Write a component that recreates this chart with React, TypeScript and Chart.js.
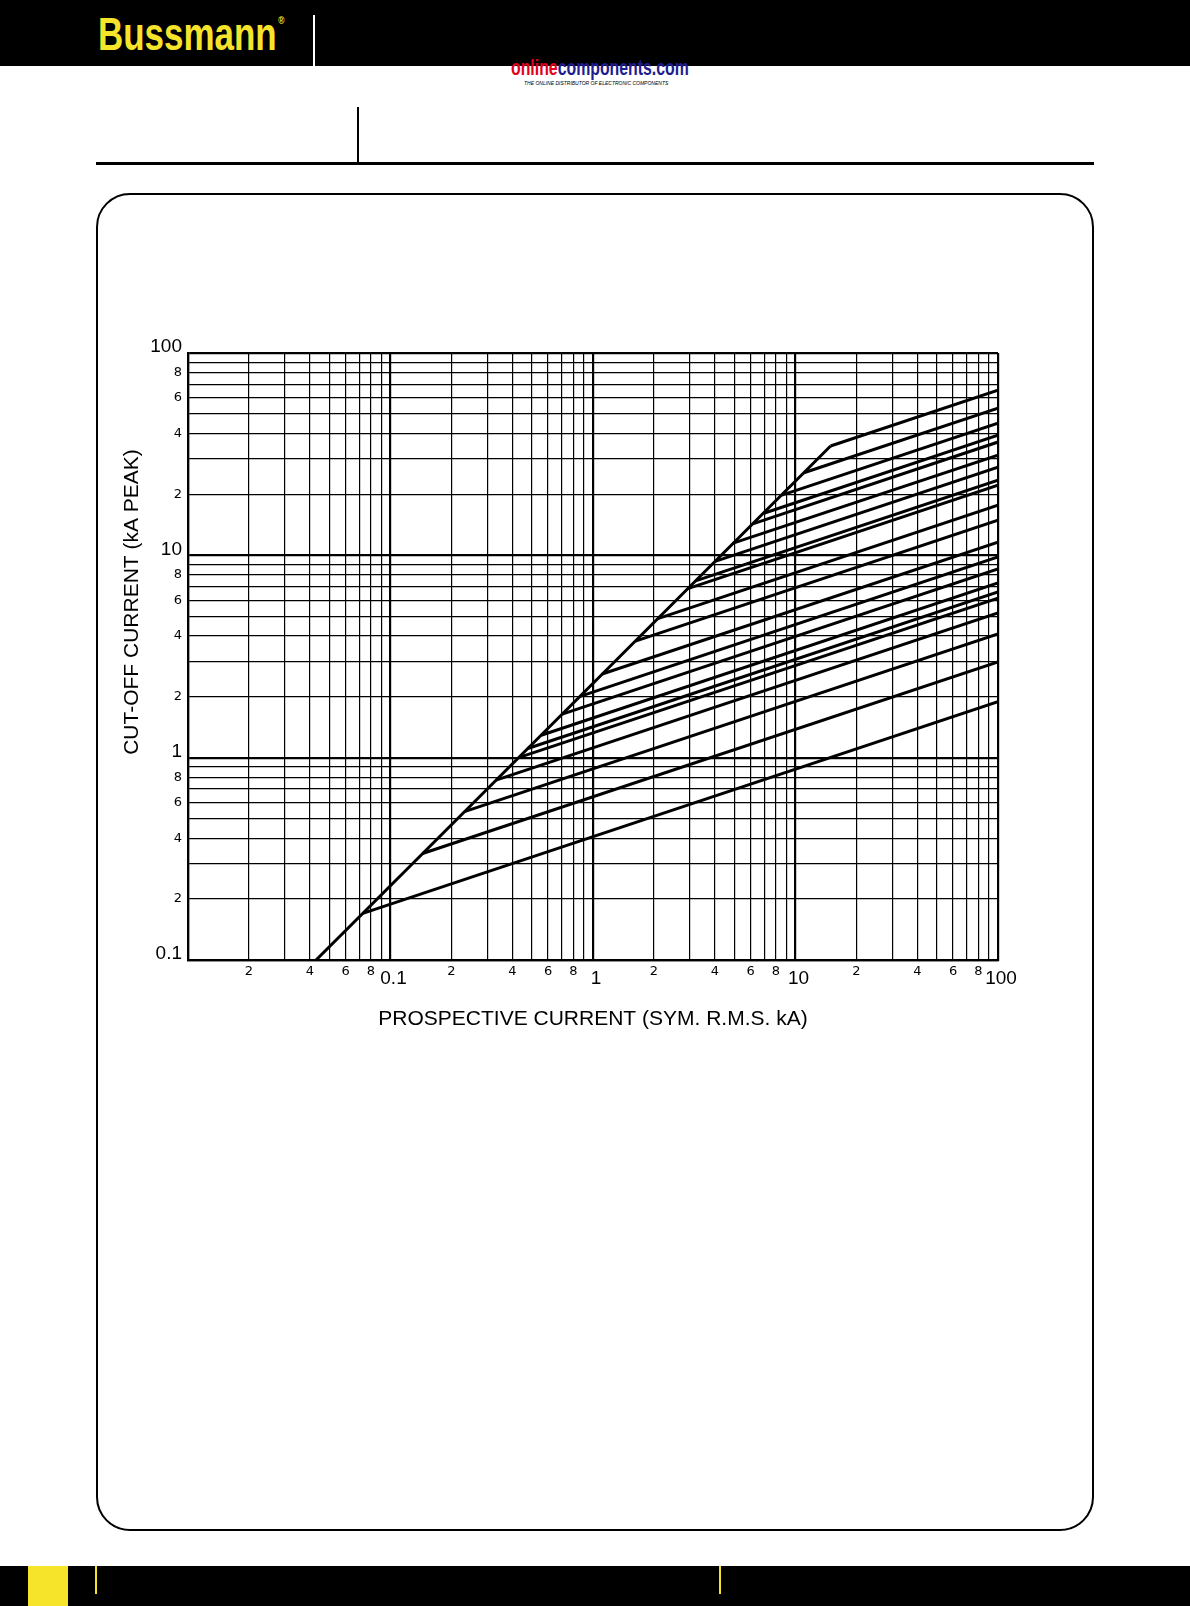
import React, { useEffect, useRef } from "react";
import { Chart, registerables } from "chart.js";

Chart.register(...registerables);

// ---- Data (prospective kA -> cut-off kA peak) ----
const envelopeX = [0.0429, 14.9];
const envelopeY = [0.1, 34.7];

const kinkX = [14.9, 11.0, 8.49, 6.92, 6.15, 4.92, 4.01, 3.21, 2.94, 2.09, 1.62, 1.11, 0.864, 0.705, 0.555, 0.476, 0.429, 0.332, 0.232, 0.144, 0.073];
const kinkY = [34.7, 25.6, 19.8, 16.1, 14.3, 11.5, 9.34, 7.48, 6.85, 4.87, 3.77, 2.59, 2.01, 1.64, 1.29, 1.11, 1.0, 0.774, 0.541, 0.336, 0.17];
const endX = [100, 100, 100, 100, 100, 100, 100, 100, 100, 100, 100, 100, 100, 100, 100, 100, 100, 100, 100, 100, 100];
const endY = [65.5, 53.4, 45.0, 39.3, 36.3, 31.3, 27.3, 23.5, 22.2, 17.7, 14.9, 11.6, 9.81, 8.56, 7.3, 6.59, 6.15, 5.19, 4.09, 2.97, 1.89];

// ---- Axes ----
const xMin = 0.01;
const xMax = 100;
const yMin = 0.1;
const yMax = 100;
const gridMultipliers = [1, 2, 3, 4, 5, 6, 7, 8, 9];
const xDecades = [0.01, 0.1, 1, 10];
const yDecades = [0.1, 1, 10];

const xMajorTicks = [0.1, 1, 10, 100];
const xMajorLabels = ["0.1", "1", "10", "100"];
const xMinorTicks = [0.02, 0.04, 0.06, 0.08, 0.2, 0.4, 0.6, 0.8, 2, 4, 6, 8, 20, 40, 60, 80];
const xMinorLabels = ["2", "4", "6", "8", "2", "4", "6", "8", "2", "4", "6", "8", "2", "4", "6", "8"];

const yMajorTicks = [0.1, 1, 10, 100];
const yMajorLabels = ["0.1", "1", "10", "100"];
const yMinorTicks = [0.2, 0.4, 0.6, 0.8, 2, 4, 6, 8, 20, 40, 60, 80];
const yMinorLabels = ["2", "4", "6", "8", "2", "4", "6", "8", "2", "4", "6", "8"];

const xTitle = "PROSPECTIVE CURRENT (SYM. R.M.S. kA)";
const yTitle = "CUT-OFF CURRENT (kA PEAK)";

function gridValues(decades: number[], max: number) {
  const out: number[] = [];
  decades.forEach((d) => gridMultipliers.forEach((m) => out.push(+(d * m).toPrecision(6))));
  out.push(max);
  return out;
}

function isDecade(v: number) {
  const l = Math.log10(v);
  return Math.abs(l - Math.round(l)) < 1e-6;
}

const SANS = '"Liberation Sans", Arial, Helvetica, sans-serif';
const MINOR_FONT = '13px "DejaVu Sans", sans-serif';
const MAJOR_FONT = "19px " + SANS;
const TITLE_FONT = "21px " + SANS;

const labelPlugin = {
  id: "customAxisLabels",
  afterDraw(chart: any) {
    const { ctx, chartArea } = chart;
    const xs = chart.scales.x;
    const ys = chart.scales.y;
    ctx.save();
    ctx.fillStyle = "#000";

    // Y minor labels
    ctx.font = MINOR_FONT;
    ctx.textAlign = "right";
    ctx.textBaseline = "middle";
    yMinorTicks.forEach((v, i) => ctx.fillText(yMinorLabels[i], chartArea.left - 6, ys.getPixelForValue(v)));

    // Y major labels
    ctx.font = MAJOR_FONT;
    yMajorTicks.forEach((v, i) => ctx.fillText(yMajorLabels[i], chartArea.left - 6, ys.getPixelForValue(v) - 6));

    // X minor labels
    ctx.font = MINOR_FONT;
    ctx.textAlign = "center";
    xMinorTicks.forEach((v, i) => ctx.fillText(xMinorLabels[i], xs.getPixelForValue(v), chartArea.bottom + 12));

    // X major labels
    ctx.font = MAJOR_FONT;
    xMajorTicks.forEach((v, i) => ctx.fillText(xMajorLabels[i], xs.getPixelForValue(v) + 3, chartArea.bottom + 19));

    // Titles
    ctx.font = TITLE_FONT;
    ctx.fillText(xTitle, (chartArea.left + chartArea.right) / 2, chartArea.bottom + 59);
    ctx.save();
    ctx.translate(chartArea.left - 56, chartArea.top + 249);
    ctx.rotate(-Math.PI / 2);
    ctx.fillText(yTitle, 0, 0);
    ctx.restore();

    ctx.restore();
  },
};

function CutoffChart() {
  const ref = useRef<HTMLCanvasElement | null>(null);
  useEffect(() => {
    if (!ref.current) return;
    const lineStyle = {
      borderColor: "#000",
      borderWidth: 3,
      pointRadius: 0,
      fill: false,
      tension: 0,
      borderJoinStyle: "miter" as const,
    };
    const datasets: any[] = [
      {
        label: "envelope",
        data: envelopeX.map((x, i) => ({ x, y: envelopeY[i] })),
        ...lineStyle,
      },
    ];
    kinkX.forEach((kx, i) => {
      datasets.push({
        label: "fuse " + (i + 1),
        data: [
          { x: kx, y: kinkY[i] },
          { x: endX[i], y: endY[i] },
        ],
        ...lineStyle,
      });
    });

    const gridWidth = (ctx: any) => (ctx.tick && isDecade(ctx.tick.value) ? 2.2 : 1.2);

    const chart = new Chart(ref.current, {
      type: "line",
      data: { datasets },
      plugins: [labelPlugin],
      options: {
        animation: false,
        responsive: false,
        devicePixelRatio: 1,
        layout: { padding: { left: 88, top: 33, right: 62, bottom: 80 } },
        plugins: { legend: { display: false }, tooltip: { enabled: false } },
        events: [],
        scales: {
          x: {
            type: "logarithmic",
            min: xMin,
            max: xMax,
            afterBuildTicks: (scale: any) => {
              scale.ticks = gridValues(xDecades, xMax).map((value) => ({ value }));
            },
            ticks: { display: false },
            grid: { color: "#000", lineWidth: gridWidth, drawTicks: false },
            border: { display: true, color: "#000", width: 2.2 },
          },
          y: {
            type: "logarithmic",
            min: yMin,
            max: yMax,
            afterBuildTicks: (scale: any) => {
              scale.ticks = gridValues(yDecades, yMax).map((value) => ({ value }));
            },
            ticks: { display: false },
            grid: { color: "#000", lineWidth: gridWidth, drawTicks: false },
            border: { display: true, color: "#000", width: 2.2 },
          },
        },
      } as any,
    });
    return () => chart.destroy();
  }, []);
  return <canvas ref={ref} width={960} height={720} style={{ position: "absolute", left: 100, top: 320, width: 960, height: 720 }} />;
}

export default function App() {
  return (
    <div
      style={{
        position: "absolute",
        left: 0,
        top: 0,
        width: 1190,
        height: 1606,
        background: "#fff",
        overflow: "hidden",
        fontFamily: SANS,
      }}
    >
      {/* header band */}
      <div style={{ position: "absolute", left: 0, top: 0, width: 1190, height: 66, background: "#000" }} />
      <div
        style={{
          position: "absolute",
          left: 98,
          top: -5,
          color: "#f6e42a",
          fontFamily: SANS,
          fontWeight: 700,
          fontSize: 46,
          lineHeight: "50px",
          whiteSpace: "nowrap",
          transform: "scaleX(0.76)",
          transformOrigin: "0 0",
        }}
      >
        Bussmann<span style={{ fontSize: 11, verticalAlign: 26, marginLeft: 2 }}>®</span>
      </div>
      <div style={{ position: "absolute", left: 313, top: 15, width: 2, height: 51, background: "#fff" }} />

      {/* distributor mark */}
      <div
        style={{
          position: "absolute",
          left: 511,
          top: 58,
          fontFamily: SANS,
          fontWeight: 700,
          fontSize: 22,
          lineHeight: "20px",
          whiteSpace: "nowrap",
          transform: "scaleX(0.72)",
          transformOrigin: "0 0",
        }}
      >
        <span style={{ color: "#e3001b" }}>online</span>
        <span style={{ color: "#1d1d8f" }}>components.com</span>
      </div>
      <div
        style={{
          position: "absolute",
          left: 524,
          top: 80,
          fontSize: 5,
          lineHeight: "6px",
          fontStyle: "italic",
          color: "#000",
          whiteSpace: "nowrap",
        }}
      >
        THE ONLINE DISTRIBUTOR OF ELECTRONIC COMPONENTS
      </div>

      {/* title rule */}
      <div style={{ position: "absolute", left: 357, top: 107, width: 2, height: 57, background: "#000" }} />
      <div style={{ position: "absolute", left: 96, top: 162, width: 998, height: 3, background: "#000" }} />

      {/* rounded frame */}
      <div
        style={{
          position: "absolute",
          left: 96,
          top: 193,
          width: 998,
          height: 1338,
          border: "2px solid #000",
          borderRadius: 34,
          boxSizing: "border-box",
        }}
      />

      <CutoffChart />

      {/* footer */}
      <div style={{ position: "absolute", left: 0, top: 1566, width: 1190, height: 40, background: "#000" }} />
      <div style={{ position: "absolute", left: 28, top: 1566, width: 40, height: 40, background: "#f6e42a" }} />
      <div style={{ position: "absolute", left: 95, top: 1566, width: 1.5, height: 28, background: "#f6e42a" }} />
      <div style={{ position: "absolute", left: 719, top: 1566, width: 1.5, height: 28, background: "#f6e42a" }} />
    </div>
  );
}
